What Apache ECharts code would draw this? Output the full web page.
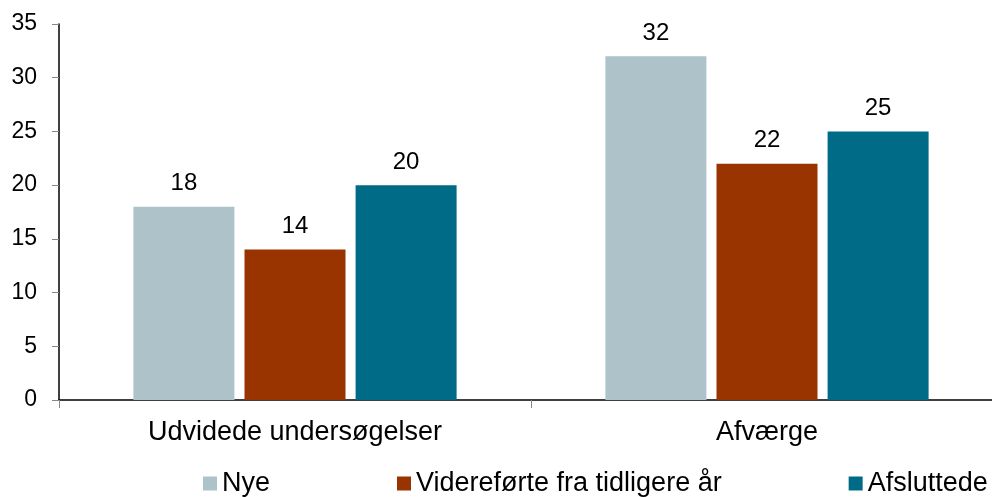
<!DOCTYPE html>
<html>
<head>
<meta charset="utf-8">
<script src="https://cdn.jsdelivr.net/npm/echarts@6/dist/echarts.min.js"></script>
<style>
  html, body { margin: 0; padding: 0; background: #fff; overflow: hidden; }
  #chart { width: 1010px; height: 497px; }
</style>
</head>
<body>
<div id="chart"></div>
<script>
var categories = ['Udvidede undersøgelser', 'Afværge'];
var seriesNames = ['Nye', 'Videreførte fra tidligere år', 'Afsluttede'];
var nye = [18, 32];
var viderefoerte = [14, 22];
var afsluttede = [20, 25];
var colors = ['#ADC3C9', '#993300', '#006B87'];

var font = 'Arial, "Liberation Sans", sans-serif';

function barSeries(name, values, color) {
    return {
        name: name,
        type: 'bar',
        data: values,
        barWidth: 101,
        barGap: '10%',
        itemStyle: { color: color },
        label: {
            show: true,
            position: 'top',
            distance: 11,
            color: '#000',
            fontSize: 24,
            fontFamily: font
        }
    };
}

var myChart = echarts.init(document.getElementById('chart'));
var option = {
    animation: false,
    textStyle: { fontFamily: font },
    grid: {
        left: 59,
        top: 24,
        width: 944,
        height: 376
    },
    legend: {
        top: 465,
        left: 198,
        itemWidth: 14,
        itemHeight: 14,
        itemGap: 127,
        icon: 'rect',
        textStyle: { fontSize: 27, color: '#000', fontFamily: font },
        data: seriesNames
    },
    xAxis: {
        type: 'category',
        data: categories,
        axisLine: { lineStyle: { color: '#000', width: 1.5 } },
        axisTick: { show: true, length: 8, lineStyle: { color: '#888' } },
        axisLabel: { fontSize: 27, color: '#000', margin: 19, fontFamily: font }
    },
    yAxis: {
        type: 'value',
        min: 0,
        max: 35,
        interval: 5,
        axisLine: { show: true, lineStyle: { color: '#000', width: 1.5 } },
        axisTick: { show: true, length: 7, lineStyle: { color: '#888' } },
        splitLine: { show: false },
        axisLabel: { fontSize: 23, color: '#000', margin: 22, fontFamily: font }
    },
    series: [
        barSeries(seriesNames[0], nye, colors[0]),
        barSeries(seriesNames[1], viderefoerte, colors[1]),
        barSeries(seriesNames[2], afsluttede, colors[2])
    ]
};
myChart.setOption(option);
</script>
</body>
</html>
